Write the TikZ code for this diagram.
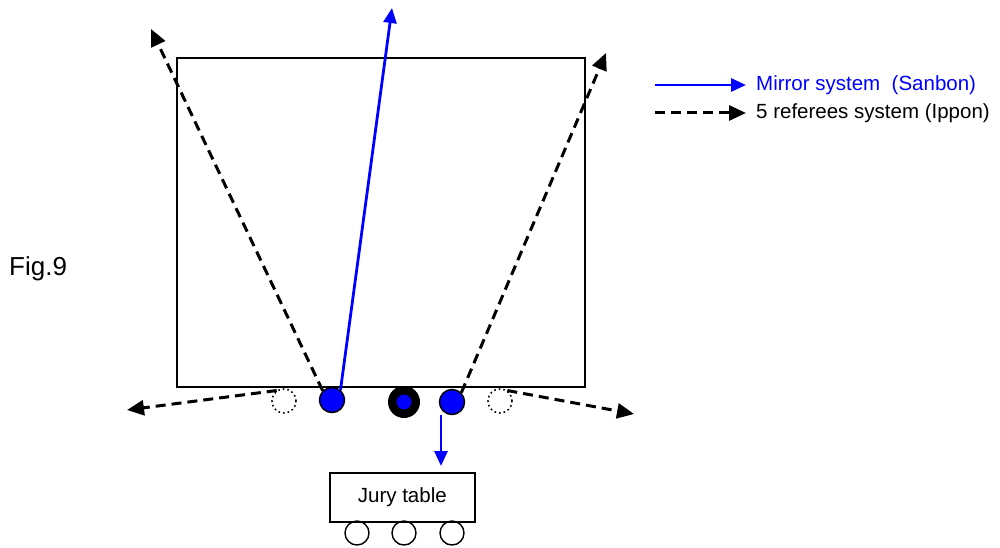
\documentclass[tikz,border=0pt]{standalone}
\usepackage{fontspec}
\setmainfont{Liberation Sans}
\usetikzlibrary{positioning, arrows.meta}

\begin{document}
\begin{tikzpicture}[x=1pt,y=-1pt,font=\fontsize{20.5}{24}\selectfont,
  referee/.style={circle,draw,fill=blue,line width=1.5pt,minimum size=25pt,inner sep=0pt},
  flagjudge/.style={circle,draw,line width=1.6pt,dash pattern=on 1.6pt off 3pt,minimum size=24pt,inner sep=0pt},
  chair/.style={circle,draw,line width=1.4pt,minimum size=24pt,inner sep=0pt},
  mirror/.style={-{Triangle[length=15pt,width=13pt]},blue,line width=2.8pt},
  ippon/.style={-{Triangle[length=17pt,width=15pt]},line width=3pt,dash pattern=on 10pt off 6pt}]
  \useasboundingbox (0,0) rectangle (1000,548);
  % area
  \node[draw,line width=1.8pt,minimum width=408pt,minimum height=329pt,inner sep=0pt,
        anchor=north west] (field) at (176,57) {};
  \node[anchor=base west,inner sep=0pt,font=\fontsize{26}{30}\selectfont] (fig) at (9,275) {Fig.9};
  % judges
  \node[flagjudge] (f1) at (284,401) {};
  \node[referee]   (r1) at (332,400) {};
  \node[circle,fill=black,minimum size=32pt,inner sep=0pt] (main) at (404,402) {};
  \node[circle,draw,fill=blue,line width=0.8pt,minimum size=16pt,inner sep=0pt] at (main) {};
  \node[referee]   (r2) at (452,402) {};
  \node[flagjudge] (f2) at (500,401) {};
  % jury
  \node[draw,line width=1.6pt,minimum width=145pt,minimum height=49pt,
        anchor=north west] (jury) at (329,472) {};
  \node (jurytext) at (jury.center) {Jury table};
  \node[chair] (c1) at (357,533) {};
  \node[chair] (c2) at (404,533) {};
  \node[chair] (c3) at (452,533) {};
  % ends of arrows
  \coordinate (tl) at (151,29);
  \coordinate (tr) at (606,53);
  \coordinate (tt) at (392,8);
  \coordinate (bl) at (127,410);
  \coordinate (br) at (634,414);
  \coordinate (down) at (441,415);
  \draw[ippon] (r1.135) -- (tl);
  \draw[ippon] (r2.45) -- (tr);
  \draw[ippon] (f1.125) -- (bl);
  \draw[ippon] (f2.55) -- (br);
  \draw[mirror] (r1.50) -- (tt);
  \draw[mirror,shorten >=6pt] (down) -- (down |- jury.north);
  % legend
  \coordinate (m1) at (655,85);
  \coordinate (m2) at (746,85);
  \coordinate (p1) at (655,113);
  \coordinate (p2) at (746,113);
  \draw[mirror] (m1) -- (m2);
  \draw[ippon] (p1) -- (p2);
  \node[anchor=west,blue,inner sep=0pt] (mtext) at (756,85) {Mirror system\ \ (Sanbon)};
  \node[anchor=west,inner sep=0pt] (ptext) at (756,113) {5 referees system (Ippon)};
\end{tikzpicture}
\end{document}
